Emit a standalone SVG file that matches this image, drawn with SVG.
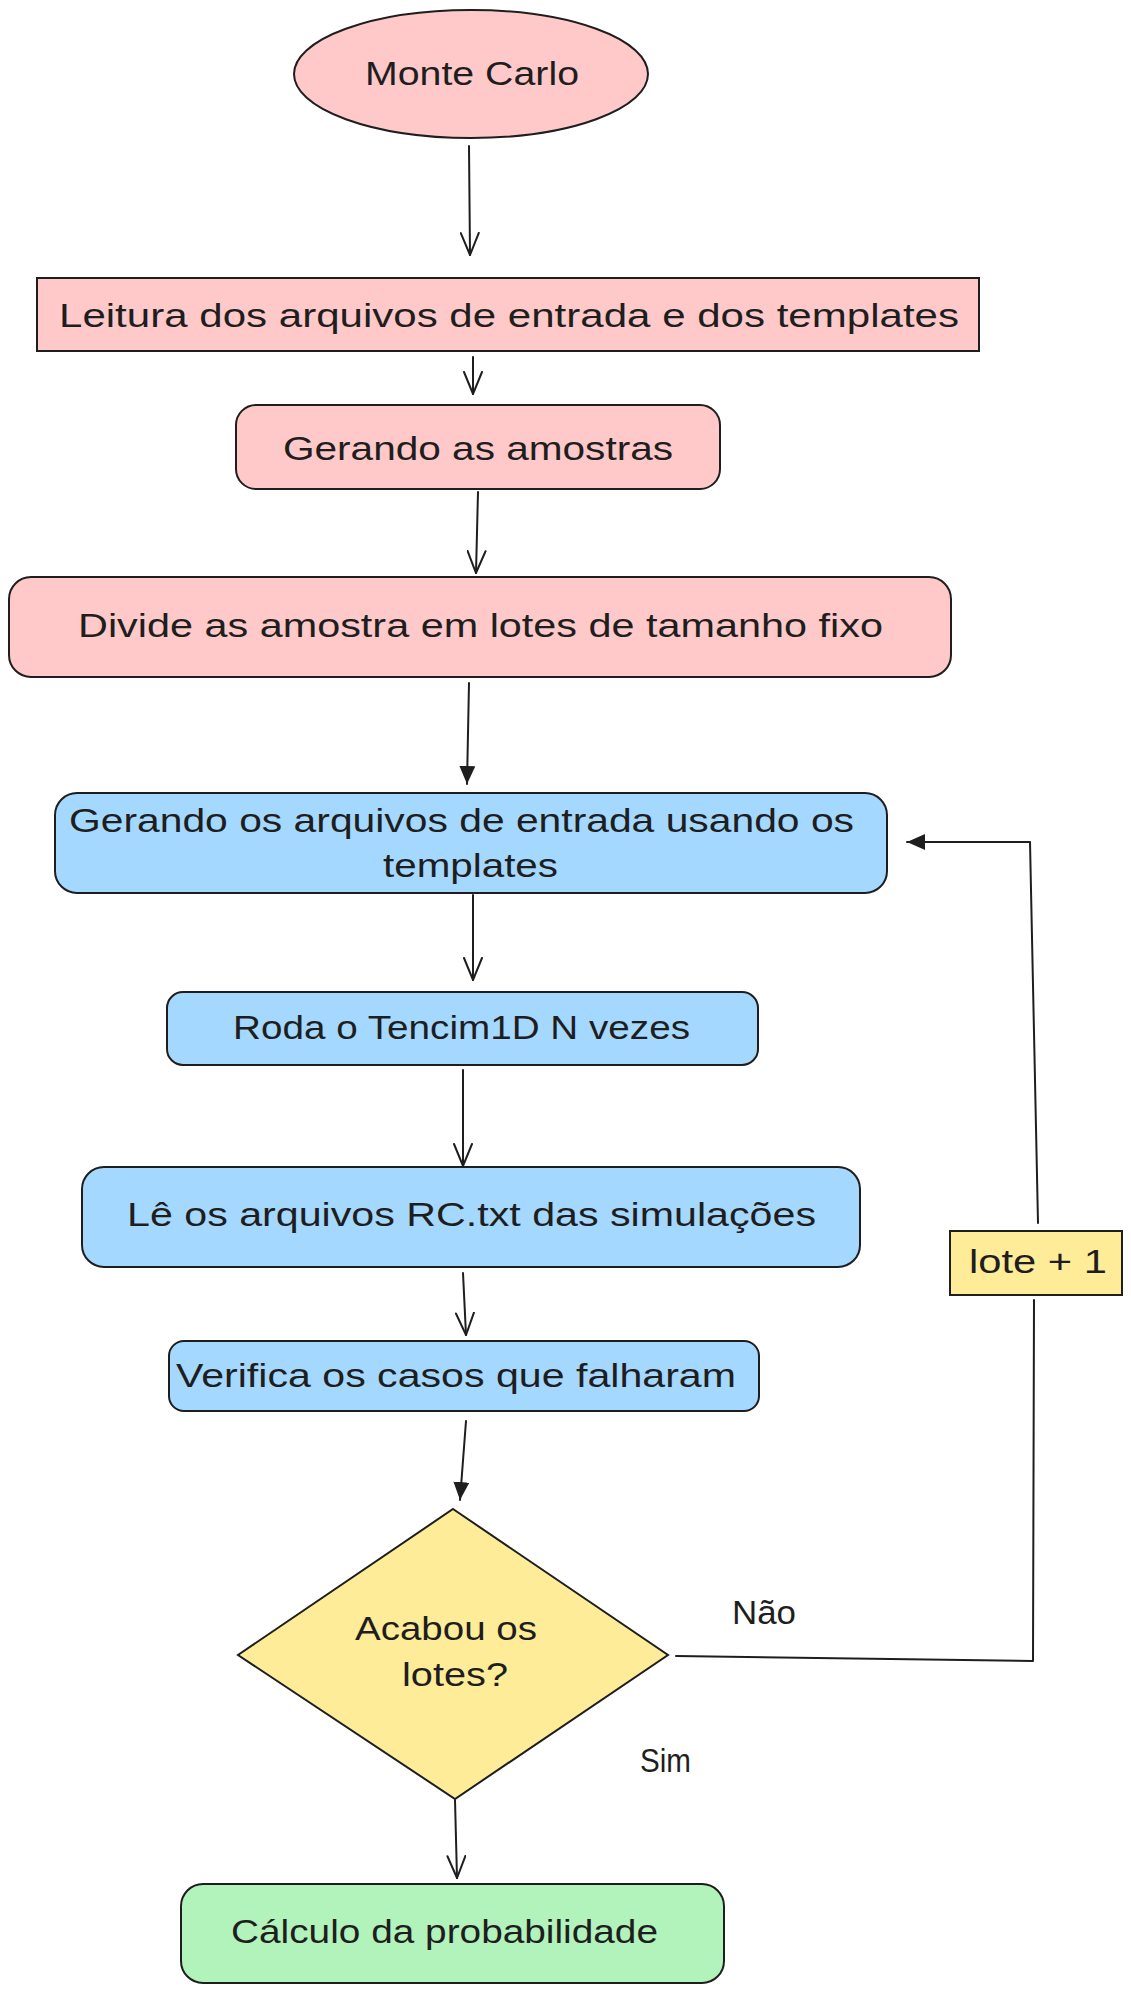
<svg xmlns="http://www.w3.org/2000/svg" width="1131" height="1990" viewBox="0 0 1131 1990">
<defs>
<style>
.n{stroke:#1e1e1e;stroke-width:2;}
.pink{fill:#ffc9c9;}
.blue{fill:#a5d8ff;}
.yellow{fill:#ffec99;}
.green{fill:#b2f2bb;}
.t{font-family:"Liberation Sans",Arial,sans-serif;font-size:34px;fill:#1e1e1e;}
.c{fill:none;stroke:#1e1e1e;stroke-width:2;stroke-linecap:round;stroke-linejoin:round;}
</style>
<marker id="open" viewBox="0 0 24 20" refX="23" refY="10" markerWidth="24" markerHeight="20" markerUnits="userSpaceOnUse" orient="auto">
<path d="M1,1 L23,10 L1,19" fill="none" stroke="#1e1e1e" stroke-width="2" stroke-linecap="round"/>
</marker>
<marker id="fill" viewBox="0 0 18 16" refX="18" refY="8" markerWidth="18" markerHeight="16" markerUnits="userSpaceOnUse" orient="auto">
<path d="M0,0 L18,8 L0,16 Z" fill="#1e1e1e"/>
</marker>
</defs>
<rect width="1131" height="1990" fill="#ffffff"/>

<g id="connectors">
<path class="c" d="M469,146 L470,255" marker-end="url(#open)"/>
<path class="c" d="M473,357 L473,394" marker-end="url(#open)"/>
<path class="c" d="M478,492 L476,573" marker-end="url(#open)"/>
<path class="c" d="M469,683 L467,784" marker-end="url(#fill)"/>
<path class="c" d="M473,895 L473,980" marker-end="url(#open)"/>
<path class="c" d="M463,1070 L463,1166" marker-end="url(#open)"/>
<path class="c" d="M463,1273 L466,1335" marker-end="url(#open)"/>
<path class="c" d="M466,1421 L460,1500" marker-end="url(#fill)"/>
<path class="c" d="M455,1800 L457,1878" marker-end="url(#open)"/>
<path class="c" d="M676,1656 L1033,1661 L1034,1300"/>
<path class="c" d="M1038,1223 L1030,842 L907,842" marker-end="url(#fill)"/>
</g>

<g id="node-monte-carlo">
<ellipse class="n pink" cx="471" cy="74" rx="177" ry="64"/>
<text class="t" x="365" y="85" textLength="214" lengthAdjust="spacingAndGlyphs">Monte Carlo</text>
</g>

<g id="node-leitura">
<rect class="n pink" x="37" y="278" width="942" height="73"/>
<text class="t" x="59" y="327" textLength="900" lengthAdjust="spacingAndGlyphs">Leitura dos arquivos de entrada e dos templates</text>
</g>

<g id="node-gerando-amostras">
<rect class="n pink" x="236" y="405" width="484" height="84" rx="20"/>
<text class="t" x="283" y="460" textLength="390" lengthAdjust="spacingAndGlyphs">Gerando as amostras</text>
</g>

<g id="node-divide">
<rect class="n pink" x="9" y="577" width="942" height="100" rx="22"/>
<text class="t" x="78" y="637" textLength="805" lengthAdjust="spacingAndGlyphs">Divide as amostra em lotes de tamanho fixo</text>
</g>

<g id="node-gerando-arquivos">
<rect class="n blue" x="55" y="793" width="832" height="100" rx="22"/>
<text class="t" x="69" y="832" textLength="785" lengthAdjust="spacingAndGlyphs">Gerando os arquivos de entrada usando os</text>
<text class="t" x="383" y="877" textLength="175" lengthAdjust="spacingAndGlyphs">templates</text>
</g>

<g id="node-roda">
<rect class="n blue" x="167" y="992" width="591" height="73" rx="16"/>
<text class="t" x="233" y="1039" textLength="457" lengthAdjust="spacingAndGlyphs">Roda o Tencim1D N vezes</text>
</g>

<g id="node-le">
<rect class="n blue" x="82" y="1167" width="778" height="100" rx="22"/>
<text class="t" x="127" y="1226" textLength="689" lengthAdjust="spacingAndGlyphs">Lê os arquivos RC.txt das simulações</text>
</g>

<g id="node-verifica">
<rect class="n blue" x="169" y="1341" width="590" height="70" rx="15"/>
<text class="t" x="176" y="1387" textLength="560" lengthAdjust="spacingAndGlyphs">Verifica os casos que falharam</text>
</g>

<g id="node-decisao">
<path class="n yellow" d="M453,1509 L668,1655 L455,1799 L238,1655 Z"/>
<text class="t" x="355" y="1640" textLength="182" lengthAdjust="spacingAndGlyphs">Acabou os</text>
<text class="t" x="402" y="1686" textLength="106" lengthAdjust="spacingAndGlyphs">lotes?</text>
</g>

<g id="node-lote">
<rect class="n yellow" x="950" y="1231" width="172" height="64"/>
<text class="t" x="969" y="1273" textLength="138" lengthAdjust="spacingAndGlyphs">lote + 1</text>
</g>

<g id="node-calculo">
<rect class="n green" x="181" y="1884" width="543" height="99" rx="22"/>
<text class="t" x="231" y="1943" textLength="427" lengthAdjust="spacingAndGlyphs">Cálculo da probabilidade</text>
</g>

<g id="labels">
<text class="t" x="732" y="1624" textLength="64" lengthAdjust="spacingAndGlyphs">Não</text>
<text class="t" x="640" y="1772" textLength="51" lengthAdjust="spacingAndGlyphs">Sim</text>
</g>
</svg>
